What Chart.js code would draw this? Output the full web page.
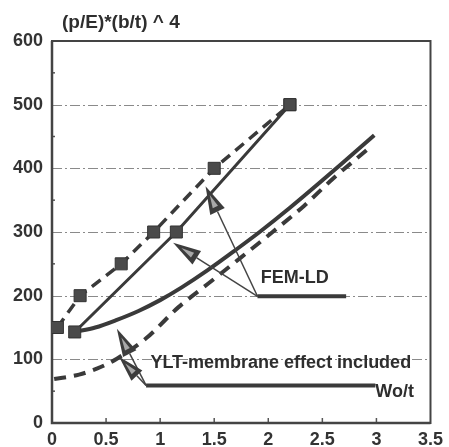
<!DOCTYPE html>
<html><head><meta charset="utf-8">
<script src="https://cdn.jsdelivr.net/npm/chart.js@4/dist/chart.umd.min.js"></script>
<style>html,body{margin:0;padding:0;background:#fff;}#wrap{width:449px;height:447px;}</style>
</head><body><div id="wrap"><canvas id="c" width="449" height="447"></canvas></div>
<script>
// ---- data ----
const xTickLabels = ['0','0.5','1','1.5','2','2.5','3','3.5'];
const yTickLabels = ['0','100','200','300','400','500','600'];
const yTitle = '(p/E)*(b/t) ^ 4';
// dashed line with squares
const expX = [0.05, 0.26, 0.64, 0.94, 1.5, 2.2];
const expY = [150, 200, 250, 300, 400, 500];
// solid line with squares (FEM-LD)
const femX = [0.21, 1.15, 2.2];
const femY = [143, 300, 500];
// thick solid curve
const curveX = [0.21, 0.4, 0.6, 0.8, 1.0, 1.2, 1.44, 1.7, 1.92, 2.2, 2.63, 2.98];
const curveY = [143, 150, 162, 176, 193, 213, 240, 272, 300, 338, 400, 452];
// thick dashed curve
const dashX = [0.02, 0.25, 0.45, 0.6, 0.87, 1.17, 1.46, 1.74, 2.04, 2.33, 2.6, 2.92];
const dashY = [69, 76, 88, 101, 133, 182, 221, 259, 300, 341, 384, 430];
// annotations (data units)
const femLabel = 'FEM-LD';
const femLabelPos = [1.93, 228];
const femAnchor = [1.9, 199];
const femUnderlineEnd = 2.72;
const femTips = [[1.42, 372], [1.12, 283]];
const yltLabel = 'YLT-membrane effect included';
const yltLabelPos = [0.91, 94];
const yltAnchor = [0.87, 59];
const yltUnderlineEnd = 2.99;
const yltTips = [[0.6, 148], [0.62, 104]];
const xTitle = 'Wo/t';
const xTitlePos = [2.99, 48];

const pts = (xs, ys) => xs.map((x, i) => ({x, y: ys[i]}));
const INK = '#3a3a3a';
const FONT = '"Liberation Sans", Arial, sans-serif';

const decor = {
  id: 'decor',
  beforeDatasetsDraw(chart) {
    const {ctx, chartArea: a, scales: {x, y}} = chart;
    ctx.save();
    ctx.strokeStyle = '#8a8a8a';
    ctx.lineWidth = 1;
    ctx.setLineDash([10, 3, 2, 3]);
    for (let v = 100; v <= 500; v += 100) {
      const py = Math.round(y.getPixelForValue(v)) + 0.5;
      ctx.beginPath(); ctx.moveTo(a.left, py); ctx.lineTo(a.right, py); ctx.stroke();
    }
    ctx.setLineDash([]);
    ctx.strokeStyle = '#555';
    ctx.lineWidth = 1.5;
    for (let v = 0.5; v <= 3.01; v += 0.5) {
      const px = x.getPixelForValue(v);
      ctx.beginPath(); ctx.moveTo(px, a.bottom); ctx.lineTo(px, a.bottom - 5); ctx.stroke();
    }
    for (let v = 50; v < 600; v += 100) {
      const py = y.getPixelForValue(v);
      ctx.beginPath(); ctx.moveTo(a.left, py); ctx.lineTo(a.left + 3, py); ctx.stroke();
    }
    ctx.strokeStyle = '#444';
    ctx.lineWidth = 2;
    ctx.strokeRect(a.left, a.top, a.right - a.left, a.bottom - a.top);
    ctx.lineWidth = 2.5;
    ctx.beginPath(); ctx.moveTo(a.left, a.top); ctx.lineTo(a.left, a.bottom); ctx.lineTo(a.right, a.bottom); ctx.stroke();
    ctx.restore();
  },
  afterDatasetsDraw(chart) {
    const {ctx, chartArea: a, scales: {x, y}} = chart;
    const P = (p) => [x.getPixelForValue(p[0]), y.getPixelForValue(p[1])];
    ctx.save();
    const arrow = (anc, tip, hl, hw) => {
      const [ax, ay] = P(anc), [tx, ty] = P(tip);
      const dx = ax - tx, dy = ay - ty, L = Math.hypot(dx, dy);
      const ux = dx / L, uy = dy / L, nx = -uy, ny = ux;
      const bx = tx + ux * hl, by = ty + uy * hl;
      ctx.strokeStyle = '#444'; ctx.lineWidth = 1.5;
      ctx.beginPath(); ctx.moveTo(ax, ay); ctx.lineTo(bx, by); ctx.stroke();
      ctx.fillStyle = '#3c3c3c';
      ctx.beginPath(); ctx.moveTo(tx, ty);
      ctx.lineTo(bx + nx * hw / 2, by + ny * hw / 2);
      ctx.lineTo(bx - nx * hw / 2, by - ny * hw / 2);
      ctx.closePath(); ctx.fill();
      const cx = tx + ux * hl * 0.62, cy = ty + uy * hl * 0.62;
      ctx.fillStyle = '#a8a8a8';
      ctx.beginPath(); ctx.moveTo(tx + ux * hl * 0.35, ty + uy * hl * 0.35);
      ctx.lineTo(cx + ux * hl * 0.2 + nx * hw * 0.18, cy + uy * hl * 0.2 + ny * hw * 0.18);
      ctx.lineTo(cx + ux * hl * 0.2 - nx * hw * 0.18, cy + uy * hl * 0.2 - ny * hw * 0.18);
      ctx.closePath(); ctx.fill();
    };
    femTips.forEach(t => arrow(femAnchor, t, 28, 16));
    yltTips.forEach((t, i) => arrow(yltAnchor, t, i === 0 ? 28 : 26, 15));
    ctx.strokeStyle = '#3a3a3a'; ctx.lineWidth = 4;
    let [x1, y1] = P(femAnchor);
    ctx.beginPath(); ctx.moveTo(x1, y1); ctx.lineTo(x.getPixelForValue(femUnderlineEnd), y1); ctx.stroke();
    [x1, y1] = P(yltAnchor);
    ctx.beginPath(); ctx.moveTo(x1, y1); ctx.lineTo(x.getPixelForValue(yltUnderlineEnd), y1); ctx.stroke();
    ctx.fillStyle = '#2e2e2e';
    ctx.textBaseline = 'middle'; ctx.textAlign = 'left';
    ctx.font = 'bold 18px ' + FONT;
    let p = P(femLabelPos); ctx.fillText(femLabel, p[0], p[1]);
    p = P(yltLabelPos); ctx.fillText(yltLabel, p[0], p[1]);
    p = P(xTitlePos); ctx.fillText(xTitle, p[0], p[1]);
    ctx.font = 'bold 19px ' + FONT;
    ctx.fillText(yTitle, a.left + 10, a.top - 18);
    ctx.restore();
  }
};

const sq = {pointStyle: 'rect', pointRadius: 8.5, pointBackgroundColor: '#4a4a4a', pointBorderColor: '#333', pointBorderWidth: 1};

new Chart(document.getElementById('c'), {
  type: 'line',
  data: {
    datasets: [
      Object.assign({data: pts(expX, expY), borderColor: INK, borderWidth: 3.5, borderDash: [11, 7], fill: false}, sq),
      Object.assign({data: pts(femX, femY), borderColor: INK, borderWidth: 3, fill: false}, sq),
      {data: pts(curveX, curveY), borderColor: INK, borderWidth: 4, pointRadius: 0, cubicInterpolationMode: 'monotone', fill: false},
      {data: pts(dashX, dashY), borderColor: INK, borderWidth: 4, borderDash: [12, 8], pointRadius: 0, cubicInterpolationMode: 'monotone', fill: false}
    ]
  },
  options: {
    responsive: false, animation: false,
    layout: {padding: {top: 41, right: 14, left: 0, bottom: 0}},
    plugins: {legend: {display: false}, tooltip: {enabled: false}},
    scales: {
      x: {type: 'linear', min: 0, max: 3.5,
        grid: {display: false, drawTicks: false}, border: {display: false},
        ticks: {stepSize: 0.5, padding: 6, color: '#333', font: {family: FONT, size: 18, weight: 'bold'},
          callback: (v, i) => xTickLabels[i]},
        afterFit(s) { s.height = 24; }},
      y: {type: 'linear', min: 0, max: 600,
        grid: {display: false, drawTicks: false}, border: {display: false},
        ticks: {stepSize: 100, padding: 9, color: '#333', font: {family: FONT, size: 18, weight: 'bold'},
          callback: (v, i) => yTickLabels[i]},
        afterFit(s) { s.width = 52; }}
    }
  },
  plugins: [decor]
});
</script></body></html>
